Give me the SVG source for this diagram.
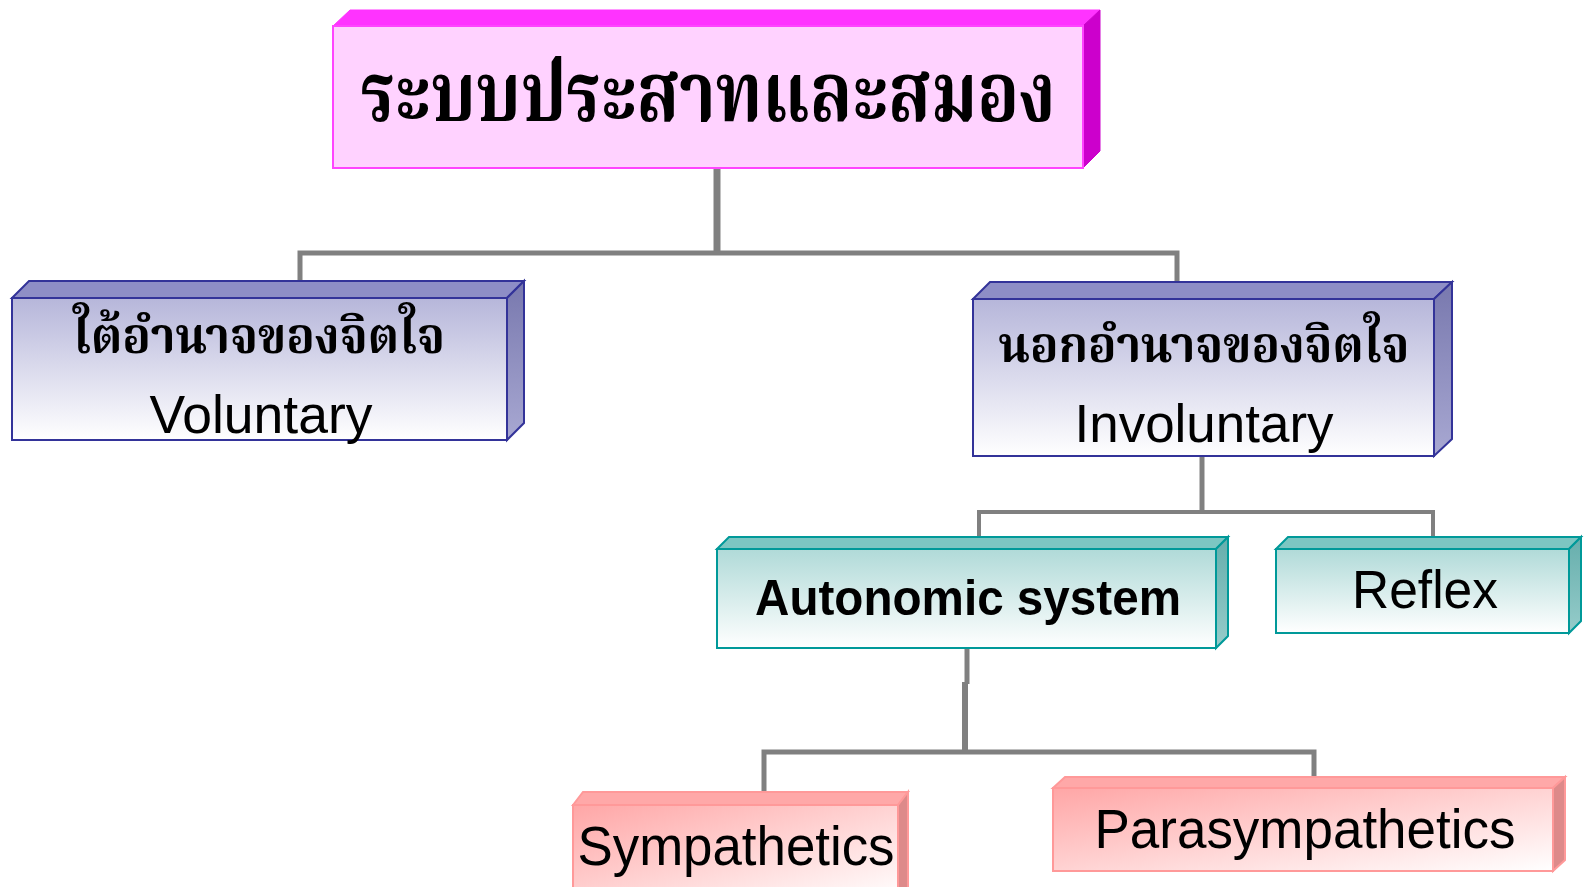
<svg xmlns="http://www.w3.org/2000/svg" width="1587" height="887" viewBox="0 0 1587 887">
<defs>
<linearGradient id="gBlue" x1="0" y1="0" x2="0" y2="1"><stop offset="0" stop-color="#B6B6DA"/><stop offset="1" stop-color="#FFFFFF"/></linearGradient>
<linearGradient id="gBlueSide" x1="0" y1="0" x2="0" y2="1"><stop offset="0" stop-color="#7878AE"/><stop offset="1" stop-color="#A8A8D2"/></linearGradient>
<linearGradient id="gTeal" x1="0" y1="0" x2="0" y2="1"><stop offset="0" stop-color="#B0DAD8"/><stop offset="1" stop-color="#FFFFFF"/></linearGradient>
<linearGradient id="gTealSide" x1="0" y1="0" x2="0" y2="1"><stop offset="0" stop-color="#66AEAC"/><stop offset="1" stop-color="#96CCCA"/></linearGradient>
<linearGradient id="gRed" x1="0" y1="0" x2="1" y2="1"><stop offset="0" stop-color="#FFA6A6"/><stop offset="1" stop-color="#FFFFFF"/></linearGradient>
<style>
.conn{fill:none;stroke:#808080;stroke-linecap:butt}
.en{font-family:"Liberation Sans",Arial,sans-serif;fill:#000;text-anchor:middle}
.th{font-family:"Noto Serif Thai","Noto Sans Thai","Loma","Garuda","Noto Sans",sans-serif;font-weight:bold;fill:#000;text-anchor:middle}
.pinkF{fill:#FFD2FF;stroke:#FF44FF;stroke-width:2}
.pinkT{fill:#FF33FF;stroke:#FF33FF;stroke-width:1}
.pinkR{fill:#CC00CC;stroke:#CC00CC;stroke-width:1}
.blueF{fill:url(#gBlue);stroke:#333399;stroke-width:2}
.blueT{fill:#8E8EC6;stroke:#333399;stroke-width:2}
.blueR{fill:url(#gBlueSide);stroke:#333399;stroke-width:2}
.tealF{fill:url(#gTeal);stroke:#009999;stroke-width:2}
.tealT{fill:#7CC6C2;stroke:#009999;stroke-width:2}
.tealR{fill:url(#gTealSide);stroke:#009999;stroke-width:2}
.redF{fill:url(#gRed);stroke:#FF9999;stroke-width:2}
.redT{fill:#FFA8A8;stroke:#FF9999;stroke-width:2}
.redR{fill:#DD8A8A;stroke:#FF9999;stroke-width:2}
</style>
</defs>
<g id="connectors">
<path class="conn" stroke-width="7" d="M717,168 V253"/>
<path class="conn" stroke-width="5" d="M300,281 V253 H1177 V281"/>
<path class="conn" stroke-width="5" d="M1202,456 V512"/>
<path class="conn" stroke-width="4" d="M979,537 V512 H1433 V537"/>
<path class="conn" stroke-width="5" d="M967,648 V684"/>
<path class="conn" stroke-width="6" d="M965,682 V752"/>
<path class="conn" stroke-width="5" d="M764,793 V752 H1314 V778"/>
</g>
<g id="node-root">
<polygon class="pinkT" points="333,26 350,10 1100,10 1083,26"/>
<polygon class="pinkR" points="1083,26 1100,10 1100,151 1083,168"/>
<rect class="pinkF" x="333" y="26" width="750" height="142"/>
<text class="th" x="708" y="121" font-size="84" textLength="695" lengthAdjust="spacingAndGlyphs">ระบบประสาทและสมอง</text>
</g>
<g id="node-voluntary">
<polygon class="blueT" points="12,298 29,281 524,281 507,298"/>
<polygon class="blueR" points="507,298 524,281 524,423 507,440"/>
<rect class="blueF" x="12" y="298" width="495" height="142"/>
<text class="th" x="259" y="353" font-size="50" textLength="372" lengthAdjust="spacingAndGlyphs">ใต้อำนาจของจิตใจ</text>
<text class="en" x="261" y="433" font-size="54" textLength="223" lengthAdjust="spacingAndGlyphs">Voluntary</text>
</g>
<g id="node-involuntary">
<polygon class="blueT" points="973,299 990,282 1452,282 1434,299"/>
<polygon class="blueR" points="1434,299 1452,282 1452,439 1434,456"/>
<rect class="blueF" x="973" y="299" width="461" height="157"/>
<text class="th" x="1204" y="362" font-size="50" textLength="411" lengthAdjust="spacingAndGlyphs">นอกอำนาจของจิตใจ</text>
<text class="en" x="1204" y="442" font-size="54" textLength="259" lengthAdjust="spacingAndGlyphs">Involuntary</text>
</g>
<g id="node-autonomic">
<polygon class="tealT" points="717,549 729,537 1228,537 1216,549"/>
<polygon class="tealR" points="1216,549 1228,537 1228,636 1216,648"/>
<rect class="tealF" x="717" y="549" width="499" height="99"/>
<text class="en" x="968" y="615" font-size="50" font-weight="bold" textLength="426" lengthAdjust="spacingAndGlyphs">Autonomic system</text>
</g>
<g id="node-reflex">
<polygon class="tealT" points="1276,549 1288,537 1581,537 1569,549"/>
<polygon class="tealR" points="1569,549 1581,537 1581,621 1569,633"/>
<rect class="tealF" x="1276" y="549" width="293" height="84"/>
<text class="en" x="1425" y="608" font-size="53" textLength="146" lengthAdjust="spacingAndGlyphs">Reflex</text>
</g>
<g id="node-sympathetics">
<polygon class="redT" points="573,805 583,792 908,792 898,805"/>
<polygon class="redR" points="898,805 908,792 908,890 898,895"/>
<rect class="redF" x="573" y="805" width="325" height="95"/>
<text class="en" x="736" y="865" font-size="56" textLength="317" lengthAdjust="spacingAndGlyphs">Sympathetics</text>
</g>
<g id="node-parasympathetics">
<polygon class="redT" points="1053,788 1065,777 1565,777 1553,788"/>
<polygon class="redR" points="1553,788 1565,777 1565,860 1553,871"/>
<rect class="redF" x="1053" y="788" width="500" height="83"/>
<text class="en" x="1305" y="848" font-size="55" textLength="421" lengthAdjust="spacingAndGlyphs">Parasympathetics</text>
</g>
</svg>
